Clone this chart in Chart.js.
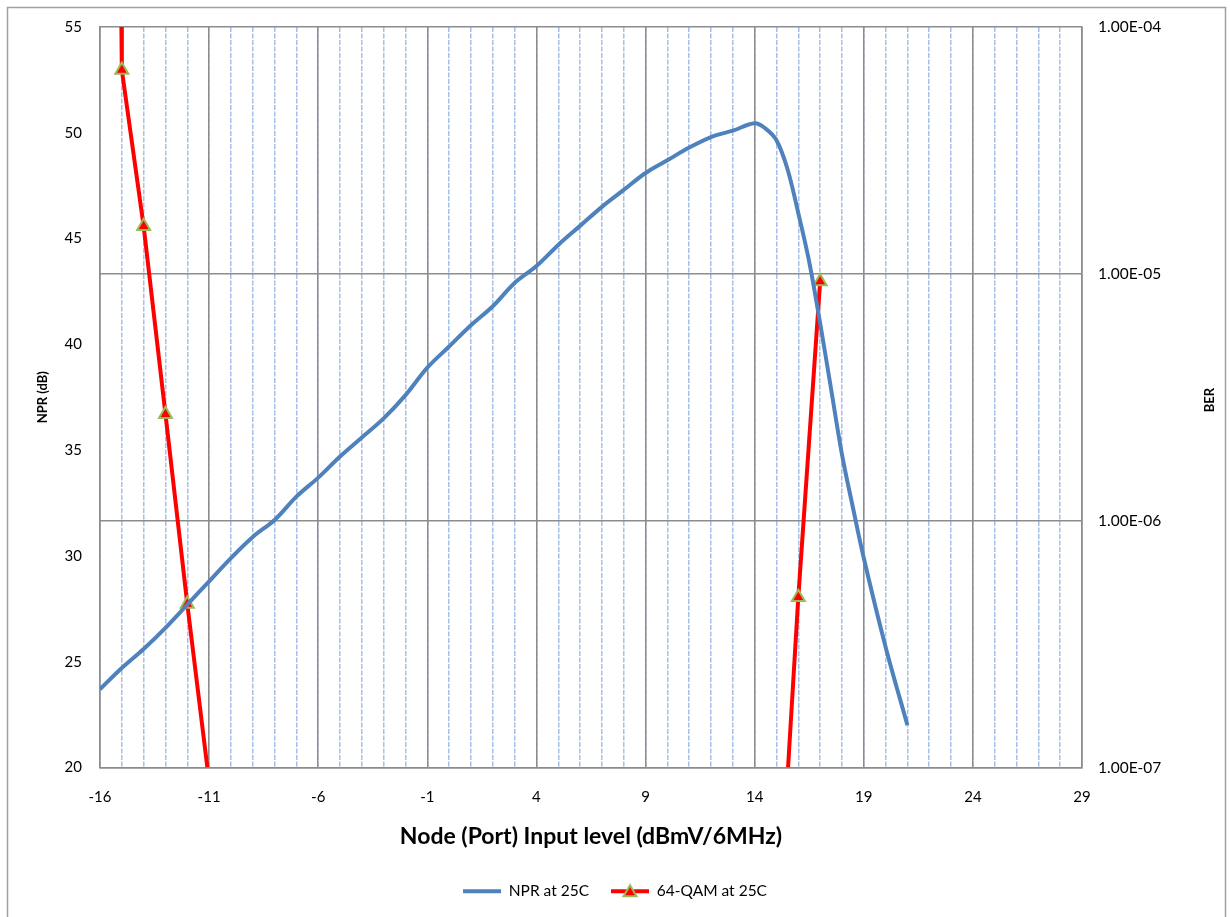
<!DOCTYPE html>
<html>
<head>
<meta charset="utf-8">
<script src="https://cdn.jsdelivr.net/npm/chart.js@4/dist/chart.umd.min.js"></script>
<style>
  body { margin: 0; background: #fff; }
  #wrap { width: 1230px; height: 917px; position: relative; }
</style>
</head>
<body>
<div id="wrap"><canvas id="chart"></canvas></div>
<script>
// NPR (left axis, dB) vs input level
const nprX = [-16, -15, -14, -13, -12, -11, -10, -9, -8, -7, -6, -5, -4, -3, -2, -1, 0, 1, 2, 3, 4, 5, 6, 7, 8, 9, 10, 11, 12, 13, 14, 14.5, 15, 15.5, 16, 16.5, 17, 17.5, 18, 18.5, 19, 20, 21];
const nprY = [23.7, 24.7, 25.6, 26.6, 27.7, 28.8, 29.9, 30.9, 31.7, 32.8, 33.7, 34.7, 35.6, 36.5, 37.6, 38.9, 39.9, 40.9, 41.8, 42.9, 43.7, 44.7, 45.6, 46.5, 47.3, 48.1, 48.7, 49.3, 49.8, 50.1, 50.45, 50.2, 49.65, 48.3, 46.2, 43.9, 41.0, 37.9, 34.8, 32.3, 29.9, 25.7, 22.0];

// 64-QAM BER (right axis, log); null splits the two branches, 0-radius points are where the line leaves the plot
const qamX = [-15.02, -15, -14, -13, -12, -11.08, 0, 15.53, 16, 17];
const qamBer = [1e-4, 6.7e-5, 1.56e-5, 2.7e-6, 4.6e-7, 1e-7, null, 1e-7, 4.9e-7, 9.3e-6];
const qamMarker = [0, 7.5, 7.5, 7.5, 7.5, 0, 0, 0, 7.5, 7.5];

const xTicks = [-16, -11, -6, -1, 4, 9, 14, 19, 24, 29];
const xMinorTicks = [];
for (let v = -16; v <= 29; v++) xMinorTicks.push(v);
const nprTicks = [20, 25, 30, 35, 40, 45, 50, 55];
const berTicks = [1e-7, 1e-6, 1e-5, 1e-4];
const berLabels = ['1.00E-07', '1.00E-06', '1.00E-05', '1.00E-04'];

Chart.defaults.font.family = 'Lato';
Chart.defaults.color = '#000';

const BLUE = '#4f81bd';
const RED = '#ff0000';
const GREEN = '#9bbb59';
const GRID = '#8c8c8c';

// legend icon for the red series: line with a triangle marker
const qamIcon = document.createElement('canvas');
qamIcon.width = 38;
qamIcon.height = 16;
(() => {
    const c = qamIcon.getContext('2d');
    c.strokeStyle = RED;
    c.lineWidth = 4;
    c.beginPath();
    c.moveTo(0, 8);
    c.lineTo(38, 8);
    c.stroke();
    c.beginPath();
    c.moveTo(19, 2);
    c.lineTo(25.5, 13);
    c.lineTo(12.5, 13);
    c.closePath();
    c.fillStyle = RED;
    c.fill();
    c.strokeStyle = GREEN;
    c.lineWidth = 2;
    c.stroke();
})();

const frame = {
    id: 'frame',
    afterDraw(chart) {
        const ctx = chart.ctx;
        ctx.save();
        ctx.strokeStyle = '#a0a0a0';
        ctx.lineWidth = 1.5;
        ctx.strokeRect(7.5, 7.5, 1218, 960);
        // right axis title reads bottom to top like the left one
        ctx.translate(1210, 400);
        ctx.rotate(-Math.PI / 2);
        ctx.font = 'bold 13px Lato';
        ctx.fillStyle = '#000';
        ctx.textAlign = 'center';
        ctx.textBaseline = 'middle';
        ctx.fillText('BER', 0, 0);
        ctx.restore();
    }
};

new Chart(document.querySelector('#chart'), {
    type: 'line',
    data: {
        datasets: [
            {
                label: 'NPR at 25C',
                data: nprX.map((x, i) => ({ x: x, y: nprY[i] })),
                yAxisID: 'y',
                borderColor: BLUE,
                backgroundColor: BLUE,
                borderWidth: 4,
                pointRadius: 0,
                tension: 0.35
            },
            {
                label: '64-QAM at 25C',
                data: qamX.map((x, i) => ({ x: x, y: qamBer[i] })),
                yAxisID: 'y2',
                borderColor: RED,
                backgroundColor: RED,
                borderWidth: 4,
                pointStyle: 'triangle',
                pointRadius: qamMarker,
                pointBackgroundColor: RED,
                pointBorderColor: GREEN,
                pointBorderWidth: 2,
                spanGaps: false,
                tension: 0
            }
        ]
    },
    options: {
        responsive: true,
        maintainAspectRatio: false,
        animation: false,
        layout: { padding: { top: 27, left: 0, right: 0, bottom: 8 } },
        plugins: {
            tooltip: { enabled: false },
            legend: {
                position: 'bottom',
                labels: {
                    usePointStyle: true,
                    pointStyleWidth: 38,
                    padding: 22,
                    font: { size: 15.5 },
                    generateLabels: () => [
                        { text: 'NPR at 25C', pointStyle: 'line', strokeStyle: BLUE, fillStyle: BLUE, lineWidth: 4, datasetIndex: 0, fontColor: '#000' },
                        { text: '64-QAM at 25C', pointStyle: qamIcon, strokeStyle: RED, fillStyle: RED, lineWidth: 0, datasetIndex: 1, fontColor: '#000' }
                    ]
                }
            }
        },
        scales: {
            xm: {
                type: 'linear',
                position: 'bottom',
                min: -16,
                max: 29,
                afterBuildTicks: s => { s.ticks = xMinorTicks.map(v => ({ value: v })); },
                afterFit: s => { s.height = 0; },
                ticks: { display: false },
                border: { display: false, dash: [5, 1.5] },
                grid: { color: '#a6c0e8', lineWidth: 1.5, drawTicks: false, z: -1 }
            },
            x: {
                type: 'linear',
                position: 'bottom',
                min: -16,
                max: 29,
                afterBuildTicks: s => { s.ticks = xTicks.map(v => ({ value: v })); },
                afterFit: s => { s.height = 94; },
                ticks: { autoSkip: false, maxRotation: 0, padding: 21, font: { size: 15 } },
                border: { display: true, color: GRID, width: 1.5 },
                grid: { color: GRID, lineWidth: 1.5, drawTicks: false },
                title: {
                    display: true,
                    text: 'Node (Port) Input level (dBmV/6MHz)',
                    font: { size: 23, weight: 'bold' },
                    padding: { top: 0, bottom: 11 }
                }
            },
            y: {
                type: 'linear',
                position: 'left',
                min: 20,
                max: 55,
                afterBuildTicks: s => { s.ticks = nprTicks.map(v => ({ value: v })); },
                afterFit: s => { s.width = 100; },
                ticks: { padding: 18, font: { size: 15 } },
                border: { display: true, color: GRID, width: 1.5 },
                grid: { display: false, drawTicks: false },
                title: {
                    display: true,
                    text: 'NPR (dB)',
                    font: { size: 13, weight: 'bold' },
                    padding: { top: 35, bottom: 0 }
                }
            },
            y2: {
                type: 'logarithmic',
                position: 'right',
                min: 1e-7,
                max: 1e-4,
                afterBuildTicks: s => { s.ticks = berTicks.map(v => ({ value: v })); },
                afterFit: s => { s.width = 148; },
                ticks: {
                    padding: 16,
                    font: { size: 15.5 },
                    callback: v => berLabels[berTicks.findIndex(t => Math.abs(Math.log10(t) - Math.log10(v)) < 1e-6)]
                },
                border: { display: true, color: GRID, width: 1.5 },
                grid: { color: GRID, lineWidth: 1.5, drawTicks: false }
            }
        }
    },
    plugins: [frame]
});
</script>
</body>
</html>
